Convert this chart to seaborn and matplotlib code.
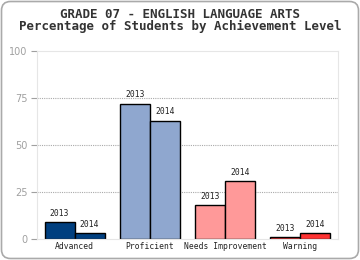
import pandas as pd
import seaborn as sns
import matplotlib
matplotlib.use('Agg')
import matplotlib.pyplot as plt
from matplotlib.patches import FancyBboxPatch
from matplotlib.transforms import IdentityTransform

levels = ['Advanced', 'Proficient', 'Needs Improvement', 'Warning']
years = ['2013', '2014']
pct_2013 = [9, 72, 18, 1]
pct_2014 = [3, 63, 31, 3]
level_colors = ['#003f7f', '#8fa7cf', '#ff9999', '#ff3333']

df = pd.DataFrame({
    'level': levels * 2,
    'year': ['2013'] * 4 + ['2014'] * 4,
    'pct': pct_2013 + pct_2014,
})

sns.set_style('white')
plt.rcParams['font.family'] = ['DejaVu Sans Mono', 'DejaVu Sans']

fig = plt.figure(figsize=(3.6, 2.6), dpi=100)
ax = fig.add_axes([37 / 360, 21 / 260, 301 / 360, 188 / 260])

sns.barplot(data=df, x='level', y='pct', hue='year', hue_order=years,
            order=levels, width=0.8, legend=False, ax=ax,
            edgecolor='black', linewidth=1.0)

# colour bars by achievement level, not by year
for i, cont in enumerate(ax.containers):
    for j, bar in enumerate(cont):
        bar.set_facecolor(level_colors[j])
    ax.bar_label(cont, labels=[years[i]] * len(cont), padding=3,
                 fontsize=5.8, color='#222222')

ax.set_ylim(0, 100)
ax.set_xlim(-0.5, 3.5)
ax.set_yticks([0, 25, 50, 75, 100])
ax.set_xlabel('')
ax.set_ylabel('')
for y in [25, 50, 75]:
    ax.axhline(y, color='#aaaaaa', linestyle=(0, (1, 1)), linewidth=0.8, zorder=0)

for s in ax.spines.values():
    s.set_color('#e6e6e6')
    s.set_linewidth(0.8)
ax.tick_params(axis='y', colors='#a0a0a0', labelsize=7, length=4, width=0.8,
               direction='out', left=True, pad=3)
ax.tick_params(axis='x', length=0, labelsize=5.8, labelcolor='#222222', pad=2)
for lbl in ax.get_yticklabels():
    lbl.set_family('DejaVu Sans')

fig.text(0.5, 1 - 14 / 260, 'GRADE 07 - ENGLISH LANGUAGE ARTS', ha='center',
         va='center', fontsize=9, fontweight='bold', color='#333333')
fig.text(0.5, 1 - 26 / 260, 'Percentage of Students by Achievement Level',
         ha='center', va='center', fontsize=9, fontweight='bold', color='#333333')

# rounded frame round the whole chart, in pixels
border = FancyBboxPatch((1.5, 1.5), 357, 257,
                        boxstyle='round,pad=0,rounding_size=9',
                        transform=IdentityTransform(), fill=False,
                        edgecolor='#aaaaaa', linewidth=1.2)
fig.patches.append(border)

fig.savefig('out.png', dpi=100)
